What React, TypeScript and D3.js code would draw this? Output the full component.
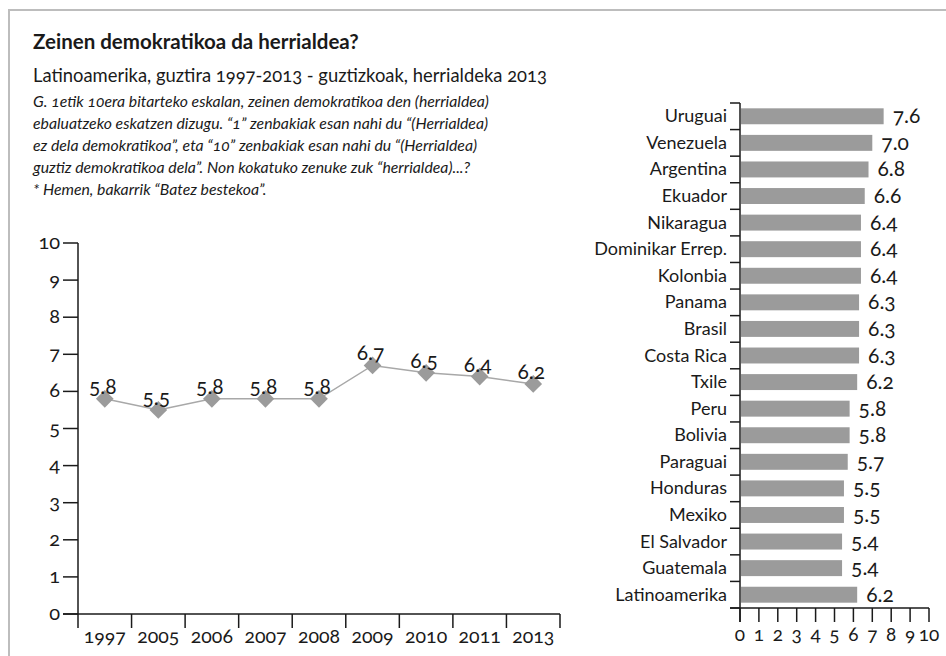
import React from 'react';
import * as d3 from 'd3';

const years = ['1997', '2005', '2006', '2007', '2008', '2009', '2010', '2011', '2013'];
const yearValues = [5.8, 5.5, 5.8, 5.8, 5.8, 6.7, 6.5, 6.4, 6.2];
const yTicks = [0, 1, 2, 3, 4, 5, 6, 7, 8, 9, 10];

const countries = [
  'Uruguai', 'Venezuela', 'Argentina', 'Ekuador', 'Nikaragua', 'Dominikar Errep.', 'Kolonbia',
  'Panama', 'Brasil', 'Costa Rica', 'Txile', 'Peru', 'Bolivia', 'Paraguai', 'Honduras',
  'Mexiko', 'El Salvador', 'Guatemala', 'Latinoamerika',
];
const countryValues = [7.6, 7.0, 6.8, 6.6, 6.4, 6.4, 6.4, 6.3, 6.3, 6.3, 6.2, 5.8, 5.8, 5.7, 5.5, 5.5, 5.4, 5.4, 6.2];
const xTicks = [0, 1, 2, 3, 4, 5, 6, 7, 8, 9, 10];

const title = 'Zeinen demokratikoa da herrialdea?';
const subtitle = 'Latinoamerika, guztira 1997-2013 - guztizkoak, herrialdeka 2013';
const noteLines = [
  'G. 1etik 10era bitarteko eskalan, zeinen demokratikoa den (herrialdea)',
  'ebaluatzeko eskatzen dizugu. “1” zenbakiak esan nahi du “(Herrialdea)',
  'ez dela demokratikoa”, eta “10” zenbakiak esan nahi du “(Herrialdea)',
  'guztiz demokratikoa dela”. Non kokatuko zenuke zuk “herrialdea)...?',
  '* Hemen, bakarrik “Batez bestekoa”.',
];

const W = 946;
const H = 656;
const FONT = 'Lato, "Open Sans", sans-serif';
const INK = '#1a1a1a';
const GREY = '#9b9b9b';

export default function App() {
  // line chart (left)
  const lx = d3.scaleBand<string>().domain(years).range([78, 560]);
  const ly = d3.scaleLinear().domain([0, 10]).range([614, 243]);
  const line = d3.line<number>()
    .x((_, i) => lx(years[i])! + lx.bandwidth() / 2)
    .y(d => ly(d));
  const diamond = d3.symbol().type(d3.symbolDiamond2).size(200)();

  // bar chart (right)
  const by = d3.scaleBand<string>().domain(countries).range([103, 608]).paddingInner(0.4).paddingOuter(0.2);
  const bx = d3.scaleLinear().domain([0, 10]).range([740, 929]);
  const step = by.step();
  const boundaries = d3.range(countries.length + 1).map(i => 103 + i * step);

  return (
    <svg width={W} height={H} style={{ position: 'absolute', left: 0, top: 0, display: 'block', fontVariantNumeric: 'oldstyle-nums' }}
      fontFamily={FONT} fill={INK}>
      <rect x={0} y={0} width={W} height={H} fill="#fff" />
      <path d={`M9,${H} V10 H${W}`} fill="none" stroke="#bdbdbd" strokeWidth={2} />

      <text x={33} y={49} fontSize={20.5} fontWeight={700}>{title}</text>
      <text x={33} y={82} fontSize={18.4}>{subtitle}</text>
      {noteLines.map((t, i) => (
        <text key={i} x={33} y={107 + i * 22} fontSize={15.8} fontStyle="italic">{t}</text>
      ))}

      {/* left chart axes */}
      <g stroke={INK} strokeWidth={1.5} fill="none">
        <line x1={78} x2={78} y1={ly(10)} y2={628} />
        <line x1={63} x2={560} y1={ly(0)} y2={ly(0)} />
        {yTicks.map(t => <line key={t} x1={63} x2={78} y1={ly(t)} y2={ly(t)} />)}
        {years.map(y => <line key={y} x1={lx(y)! + lx.bandwidth()} x2={lx(y)! + lx.bandwidth()} y1={ly(0)} y2={628} />)}
      </g>
      {yTicks.map(t => (
        <text key={t} x={60} y={ly(t) + 6} fontSize={20} textAnchor="end">{t}</text>
      ))}
      {years.map(y => (
        <text key={y} x={lx(y)! + lx.bandwidth() / 2} y={643} fontSize={19.5} textAnchor="middle">{y}</text>
      ))}
      <path d={line(yearValues)!} fill="none" stroke="#a8a8a8" strokeWidth={1.5} />
      {yearValues.map((v, i) => (
        <path key={i} d={diamond} fill={GREY}
          transform={`translate(${lx(years[i])! + lx.bandwidth() / 2},${ly(v)})`} />
      ))}
      {yearValues.map((v, i) => (
        <text key={i} x={lx(years[i])! + lx.bandwidth() / 2 - 2} y={ly(v) - 5} fontSize={21} textAnchor="middle">
          {v.toFixed(1)}
        </text>
      ))}

      {/* right chart */}
      {countries.map((c, i) => (
        <rect key={c} x={bx(0) + 1} y={by(c)!} width={bx(countryValues[i]) - bx(0) - 1}
          height={by.bandwidth()} fill={GREY} />
      ))}
      <g stroke={INK} strokeWidth={1.5} fill="none">
        <line x1={740} x2={740} y1={103} y2={622} />
        <line x1={730} x2={bx(10)} y1={608} y2={608} />
        {boundaries.map((b, i) => <line key={i} x1={730} x2={740} y1={b} y2={b} />)}
        {xTicks.map(t => <line key={t} x1={bx(t)} x2={bx(t)} y1={608} y2={622} />)}
      </g>
      {countries.map(c => (
        <text key={c} x={727} y={by(c)! + by.bandwidth() / 2 + 6} fontSize={18} textAnchor="end">{c}</text>
      ))}
      {countries.map((c, i) => (
        <text key={c} x={bx(countryValues[i]) + 9} y={by(c)! + by.bandwidth() / 2 + 7} fontSize={21}>
          {countryValues[i].toFixed(1)}
        </text>
      ))}
      {xTicks.map(t => (
        <text key={t} x={bx(t)} y={641} fontSize={19} textAnchor="middle">{t}</text>
      ))}
    </svg>
  );
}
